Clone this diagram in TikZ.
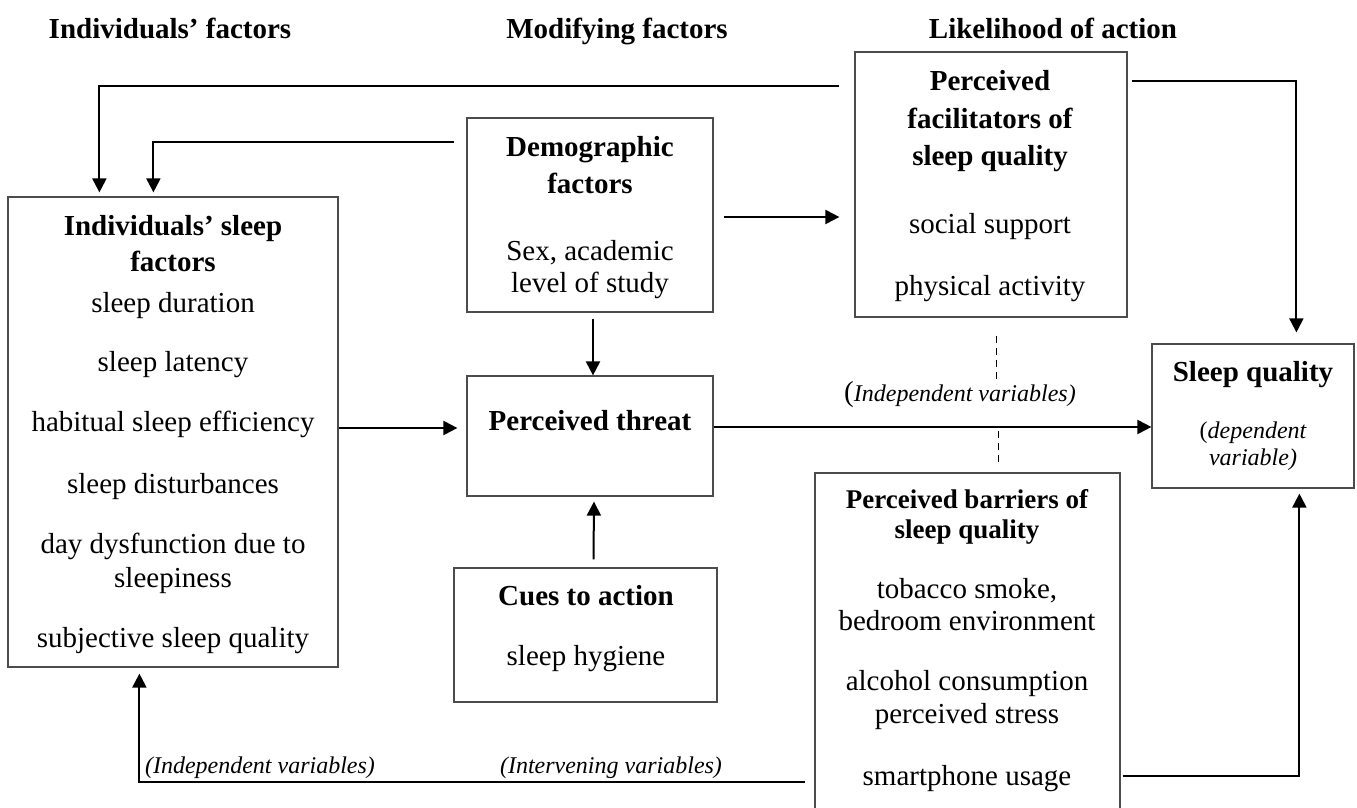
\documentclass[tikz,border=0pt]{standalone}
\usepackage{fontspec}
\setmainfont{Liberation Serif}
\usetikzlibrary{arrows.meta,calc,fit}
\begin{document}
\begin{tikzpicture}[x=0.5pt,y=-0.5pt,
  box/.style={draw=black!70, line width=0.6pt, inner sep=0pt},
  arr/.style={line width=1pt, -{Triangle[length=7pt,width=7pt]}},
  dashline/.style={line width=0.7pt, dash pattern=on 3.5pt off 2.5pt},
  reg/.style={font=\fontsize{14.5}{17}\selectfont, inner sep=0pt, anchor=mid, yshift=-2pt},
  hd/.style={font=\fontsize{14.5}{17}\selectfont\bfseries, inner sep=0pt, anchor=mid, yshift=-2pt},
  hds/.style={font=\fontsize{13.5}{16}\selectfont\bfseries, inner sep=0pt, anchor=mid, yshift=-2pt},
  lab/.style={font=\fontsize{12}{14}\selectfont\itshape, inner sep=0pt, anchor=mid, yshift=-2pt},
]
\useasboundingbox (0,0) rectangle (1357,808);

% headers
\node[hd] (h1) at (170,30) {Individuals’ factors};
\node[hd] (h2) at (617,30) {Modifying factors};
\node[hd] (h3) at (1053,30) {Likelihood of action};

% boxes
\node[box, fit={(8,197) (338,667)}] (ind) {};
\node[box, fit={(467,118) (713,312)}] (demo) {};
\node[box, fit={(467,376) (713,496)}] (threat) {};
\node[box, fit={(454,568) (717,702)}] (cues) {};
\node[box, fit={(855,52) (1127,317)}] (facil) {};
\node[box, fit={(815,473) (1120,815)}] (barr) {};
\node[box, fit={(1152,344) (1354,488)}] (sq) {};

% individuals box text
\node[hd] (i1) at (173,227) {Individuals’ sleep};
\node[hd] (i2) at (173,263) {factors};
\node[reg] (i3) at (173,304) {sleep duration};
\node[reg] (i4) at (173,363) {sleep latency};
\node[reg] (i5) at (173,423) {habitual sleep efficiency};
\node[reg] (i6) at (173,485) {sleep disturbances};
\node[reg] (i7) at (173,545) {day dysfunction due to};
\node[reg] (i8) at (173,579) {sleepiness};
\node[reg] (i9) at (173,639) {subjective sleep quality};

% demographic
\node[hd] (d1) at (590,148) {Demographic};
\node[hd] (d2) at (590,185) {factors};
\node[reg] (d3) at (590,252) {Sex, academic};
\node[reg] (d4) at (590,284) {level of study};

% threat
\node[hd] (p1) at (590,422) {Perceived threat};

% cues
\node[hd] (c1) at (586,597) {Cues to action};
\node[reg] (c2) at (586,657) {sleep hygiene};

% facilitators
\node[hd] (f1) at (990,82) {Perceived};
\node[hd] (f2) at (990,120) {facilitators of};
\node[hd] (f3) at (990,157) {sleep quality};
\node[reg] (f4) at (990,225) {social support};
\node[reg] (f5) at (990,287) {physical activity};

% barriers
\node[hds] (b1) at (967,500) {Perceived barriers of};
\node[hds] (b2) at (967,530) {sleep quality};
\node[reg] (b3) at (967,590) {tobacco smoke,};
\node[reg] (b4) at (967,622) {bedroom environment};
\node[reg] (b5) at (967,682) {alcohol consumption};
\node[reg] (b6) at (967,715) {perceived stress};
\node[reg] (b7) at (967,777) {smartphone usage};

% sleep quality
\node[hd] (s1) at (1253,373) {Sleep quality};
\node[lab] (s2) at (1253,430) {{\upshape(}dependent};
\node[lab] (s3) at (1253,457) {variable)};

% labels
\node[lab] (l1) at (960,393) {{\upshape\fontsize{14.5}{17}\selectfont(}Independent variables)};
\node[lab] (l2) at (260,765) {(Independent variables)};
\node[lab] (l3) at (611,765) {(Intervening variables)};

% connectors
\draw[arr, shorten >=2pt] ($(facil.north west)+(-15,35)$) -| ($(ind.north west)+(92,0)$);
\draw[arr, shorten >=2pt] ($(demo.north west)+(-12,25)$) -| ($(ind.north west)+(146,0)$);
\draw[arr, shorten <=5pt, shorten >=7.5pt] ($(demo.east)+(0,2)$) -- (facil.west |- {$(demo.east)+(0,2)$});
\draw[arr, shorten <=3pt] ($(demo.south)+(3,0)$) -- ($(threat.north)+(3,0)$);
\draw[arr, shorten >=4.5pt] ($(ind.east)+(0,-4)$) -- (threat.west |- {$(ind.east)+(0,-4)$});
\draw[arr] ($(cues.north)+(8,-8)$) -- ($(threat.south)+(4,5)$);
\draw[arr] ($(threat.east)+(0,-9)$) -- (sq.west |- {$(threat.east)+(0,-9)$});
\draw[arr, shorten >=5.5pt] ($(facil.north east)+(4,30)$) -| ($(sq.north west)+(145,0)$);
\draw[arr, shorten >=2.5pt] ($(barr.north east)+(2,304)$) -| ($(sq.south west)+(148,0)$);
\draw[arr, shorten >=3pt] ($(barr.north west)+(-9,310)$) -| ($(ind.south west)+(132,0)$);

% dashed links
\draw[dashline] ($(facil.south west)+(142,18)$) -- ($(facil.south west)+(142,66)$);
\draw[dashline] ($(barr.north west)+(184,-41)$) -- ($(barr.north west)+(184,-6)$);
\end{tikzpicture}
\end{document}
